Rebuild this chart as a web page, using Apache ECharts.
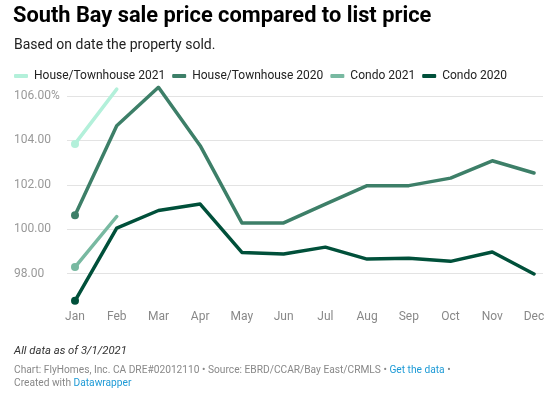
<!DOCTYPE html>
<html lang="en">
<head>
    <meta charset="UTF-8">
    <title>South Bay sale price</title>
    <script type="text/javascript" src="https://cdn.jsdelivr.net/npm/echarts@6/dist/echarts.min.js"></script>
    <style>
        html, body { margin: 0; padding: 0; background: #fff; }
    </style>
</head>
<body>
<div id="main" style="width: 560px;height:399px;"></div>
<script>
    var months = ['Jan', 'Feb', 'Mar', 'Apr', 'May', 'Jun', 'Jul', 'Aug', 'Sep', 'Oct', 'Nov', 'Dec'];
    var seriesNames = ['House/Townhouse 2021', 'House/Townhouse 2020', 'Condo 2021', 'Condo 2020'];
    var house2021 = [103.84, 106.31];
    var house2020 = [100.63, 104.66, 106.39, 103.76, 100.28, 100.28, 101.13, 101.96, 101.96, 102.30, 103.08, 102.53];
    var condo2021 = [98.29, 100.57];
    var condo2020 = [96.77, 100.05, 100.84, 101.13, 98.95, 98.88, 99.19, 98.65, 98.69, 98.55, 98.97, 97.98];
    var yTicks = [96, 98, 100, 102, 104, 106, 108];
    var colors = ['#b3f0da', '#3d7f68', '#78b9a1', '#00503a'];

    var grey = '#e3e3e3';
    var myChart = echarts.init(document.getElementById('main'));

    function line(name, data, color) {
        return {
            name: name,
            type: 'line',
            data: data,
            xAxisIndex: 0,
            yAxisIndex: 0,
            symbol: 'circle',
            symbolSize: function (v, p) { return p.dataIndex === 0 ? 8 : 0; },
            showSymbol: true,
            lineStyle: { width: 3.5, color: color, join: 'round', cap: 'round' },
            itemStyle: { color: color },
            emphasis: { disabled: true },
            z: 3
        };
    }

    var option = {
        animation: false,
        textStyle: { fontFamily: 'Roboto' },
        title: [{
            text: 'South Bay sale price compared to list price',
            left: 13, top: 6, padding: 0,
            textStyle: { fontSize: 21.8, fontWeight: 'bold', color: '#000', fontFamily: 'Roboto' }
        }, {
            text: 'Based on date the property sold.',
            left: 14, top: 38, padding: 0,
            textStyle: { fontSize: 14, fontWeight: 'normal', color: '#222', fontFamily: 'Roboto' }
        }, {
            text: 'All data as of 3/1/2021',
            left: 14, top: 346, padding: 0,
            textStyle: { fontSize: 11.3, fontStyle: 'italic', fontWeight: 'normal', color: '#333', fontFamily: 'Roboto' }
        }, {
            text: 'Chart: FlyHomes, Inc. CA DRE#02012110 • Source: EBRD/CCAR/Bay East/CRMLS • {a|Get the data} •\nCreated with {a|Datawrapper}',
            left: 14, top: 364, padding: 0,
            textStyle: {
                fontSize: 10.2, fontWeight: 'normal', color: '#888', fontFamily: 'Roboto', lineHeight: 13,
                rich: { a: { color: '#1d9ad6', fontSize: 10.2, fontFamily: 'Roboto', lineHeight: 13 } }
            }
        }],
        legend: {
            data: seriesNames,
            left: 14, top: 70, padding: 0,
            icon: 'roundRect',
            itemWidth: 14, itemHeight: 4, itemGap: 7,
            textStyle: { fontSize: 12, color: '#222', fontFamily: 'Roboto', padding: [0, 0, 0, 1] }
        },
        grid: [
            { left: 75, width: 459, top: 87.1, height: 215.3 },
            { left: 67, width: 476, top: 51.6, height: 266.4 }
        ],
        xAxis: [{
            type: 'category', gridIndex: 0, data: months, boundaryGap: false,
            axisLine: { show: false }, axisTick: { show: false },
            axisLabel: { color: '#888', fontSize: 12, margin: 9 }
        }, {
            type: 'value', gridIndex: 1, show: false, min: 0, max: 1
        }],
        yAxis: [{
            type: 'value', gridIndex: 0, min: 96.7, max: 106.4, show: false
        }, {
            type: 'value', gridIndex: 1, min: yTicks[0], max: yTicks[yTicks.length - 1], interval: 2,
            axisLine: { show: false }, axisTick: { show: false },
            splitLine: { lineStyle: { color: ['transparent', grey, grey, grey, grey, grey, 'transparent'], width: 1 } },
            axisLabel: {
                color: '#999', fontSize: 12, align: 'left', margin: 53,
                formatter: function (v) {
                    if (v === 96 || v === 108) return '';
                    return v === 106 ? v.toFixed(2) + '%' : v.toFixed(2);
                }
            }
        }],
        series: [
            line(seriesNames[0], house2021, colors[0]),
            line(seriesNames[1], house2020, colors[1]),
            line(seriesNames[2], condo2021, colors[2]),
            line(seriesNames[3], condo2020, colors[3])
        ]
    };
    myChart.setOption(option);
</script>
</body>
</html>
